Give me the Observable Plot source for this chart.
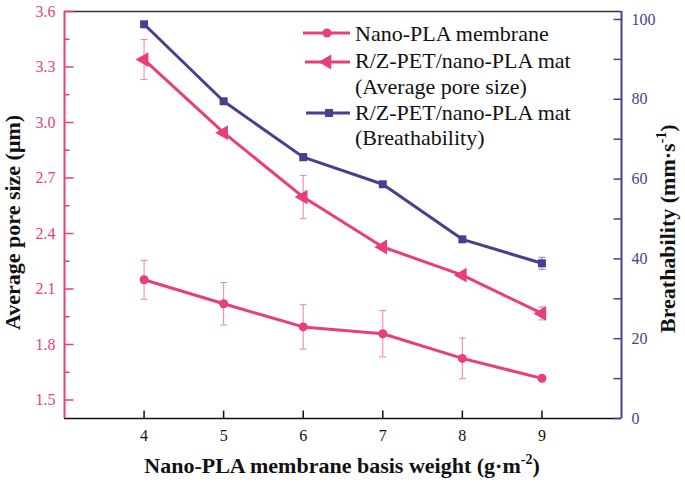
<!DOCTYPE html>
<html><head><meta charset="utf-8">
<script src="https://cdn.jsdelivr.net/npm/d3@7"></script>
<script src="https://cdn.jsdelivr.net/npm/@observablehq/plot@0.6"></script>
<style>
body{margin:0;background:#fff}
#c{position:relative;width:685px;height:483px}
#c svg text{font-family:"Liberation Serif",serif !important}
</style>
</head><body><div id="c"></div>
<script>
// ---- data ----
const weights = [4, 5, 6, 7, 8, 9];
const membranePore = [2.15, 2.02, 1.895, 1.858, 1.725, 1.617];
const membraneErr  = [0.105, 0.115, 0.12, 0.125, 0.11, 0.008];
const matPore      = [3.34, 2.945, 2.597, 2.327, 2.175, 1.968];
const matPoreErr   = [0.108, 0.015, 0.117, 0.012, 0.012, 0.035];
const matBreath    = [98.8, 79.5, 65.5, 58.7, 44.9, 38.9];
const matBreathErr = [0.4, 0.4, 0.9, 0.4, 0.4, 1.5];
const leftTicks  = [1.5, 1.8, 2.1, 2.4, 2.7, 3.0, 3.3, 3.6];
const leftMinor  = [1.65, 1.95, 2.25, 2.55, 2.85, 3.15, 3.45];
const rightTicks = [0, 20, 40, 60, 80, 100];
const rightMinor = [10, 30, 50, 70, 90];
const xTicks = [4, 5, 6, 7, 8, 9];
const seriesNames = ["Nano-PLA membrane", "R/Z-PET/nano-PLA mat", "(Average pore size)", "R/Z-PET/nano-PLA mat", "(Breathability)"];

const xDomain = [3, 10], yDomain = [1.4, 3.6], rDomain = [0, 102];
const PINK = "#E83E7C", PINK_LIGHT = "#F27FA9", NAVY = "#4A3F8E", NAVY_LIGHT = "#8A84C2";
const FONT = "Liberation Serif";

const toLeft = v => yDomain[0] + (v - rDomain[0]) * (yDomain[1] - yDomain[0]) / (rDomain[1] - rDomain[0]);

const membrane = weights.map((w, i) => ({w, v: membranePore[i], lo: membranePore[i] - membraneErr[i], hi: membranePore[i] + membraneErr[i]}));
const mat = weights.map((w, i) => ({w, v: matPore[i], lo: matPore[i] - matPoreErr[i], hi: matPore[i] + matPoreErr[i]}));
const breath = weights.map((w, i) => ({w, v: toLeft(matBreath[i]), lo: toLeft(matBreath[i] - matBreathErr[i]), hi: toLeft(matBreath[i] + matBreathErr[i])}));

const seg = (dx, dy) => ({draw(ctx) { ctx.moveTo(0, 0); ctx.lineTo(dx, dy); }});
const cap = {draw(ctx) { ctx.moveTo(-3.5, 0); ctx.lineTo(3.5, 0); }};

function errorMarks(data, color) {
  return [
    Plot.ruleX(data, {x: "w", y1: "lo", y2: "hi", stroke: color, strokeWidth: 1}),
    Plot.dot(data, {x: "w", y: "lo", symbol: cap, stroke: color, fill: "none", strokeWidth: 1}),
    Plot.dot(data, {x: "w", y: "hi", symbol: cap, stroke: color, fill: "none", strokeWidth: 1})
  ];
}

const axisText = {fontFamily: FONT, fontSize: 16, fontVariant: "normal", label: null, tickSize: 0};

const chart = Plot.plot({
  width: 685, height: 483,
  marginLeft: 64, marginRight: 64, marginTop: 11, marginBottom: 65,
  style: {fontFamily: FONT, fontSize: "16px", background: "#fff"},
  x: {domain: xDomain},
  y: {domain: yDomain},
  marks: [
    // frame
    Plot.ruleY([yDomain[0]], {stroke: "#111", strokeWidth: 1.5}),
    Plot.ruleY([yDomain[1]], {stroke: "#333", strokeWidth: 1.5}),
    // axes labels
    Plot.axisY({...axisText, ticks: leftTicks, tickPadding: 9, tickFormat: d => d.toFixed(1), fill: PINK}),
    Plot.axisY({...axisText, anchor: "right", ticks: rightTicks.map(toLeft), tickPadding: 10,
      tickFormat: (d, i) => String(rightTicks[i]), fill: NAVY}),
    Plot.axisX({...axisText, ticks: xTicks, tickPadding: 11, tickFormat: d => String(d), fill: "#111"}),
    // inward ticks
    Plot.dot(leftTicks, {y: d => d, frameAnchor: "left", symbol: seg(9, 0), stroke: PINK, strokeWidth: 1.5}),
    Plot.dot(leftMinor, {y: d => d, frameAnchor: "left", symbol: seg(5, 0), stroke: PINK, strokeWidth: 1.5}),
    Plot.dot(rightTicks.map(toLeft), {y: d => d, frameAnchor: "right", symbol: seg(-8, 0), stroke: NAVY, strokeWidth: 1.5}),
    Plot.dot(rightMinor.map(toLeft), {y: d => d, frameAnchor: "right", symbol: seg(-8, 0), stroke: NAVY, strokeWidth: 1.5}),
    Plot.dot(xTicks, {x: d => d, frameAnchor: "bottom", symbol: seg(0, -8), stroke: "#111", strokeWidth: 1.5}),
    Plot.ruleX([xDomain[0]], {stroke: PINK, strokeWidth: 2}),
    Plot.ruleX([xDomain[1]], {stroke: NAVY, strokeWidth: 2}),
    // error bars
    ...errorMarks(membrane, PINK_LIGHT),
    ...errorMarks(mat, PINK_LIGHT),
    ...errorMarks(breath, NAVY_LIGHT),
    // lines
    Plot.line(membrane, {x: "w", y: "v", stroke: PINK, strokeWidth: 3}),
    Plot.line(mat, {x: "w", y: "v", stroke: PINK, strokeWidth: 3}),
    Plot.line(breath, {x: "w", y: "v", stroke: NAVY, strokeWidth: 3}),
    // markers
    Plot.dot(membrane, {x: "w", y: "v", r: 4.5, symbol: "circle", fill: PINK}),
    Plot.dot(mat, {x: "w", y: "v", r: 5.5, symbol: "triangle", fill: PINK, rotate: -90}),
    Plot.dot(breath, {x: "w", y: "v", r: 4.5, symbol: "square", fill: NAVY})
  ]
});

document.getElementById("c").appendChild(chart);
const svg = d3.select(chart);

// axis titles
const xt = svg.append("text").attr("x", 342).attr("y", 473).attr("text-anchor", "middle")
  .attr("font-family", FONT).attr("font-size", 22).attr("font-weight", "bold").attr("fill", "#111");
xt.append("tspan").text("Nano-PLA membrane basis weight (g·m");
xt.append("tspan").attr("font-size", 14).attr("dy", -9).text("-2");
xt.append("tspan").attr("dy", 9).text(")");

svg.append("text").attr("transform", "translate(20,330) rotate(-90)").attr("text-anchor", "start")
  .attr("font-family", FONT).attr("font-size", 22).attr("font-weight", "bold").attr("fill", "#111")
  .text("Average pore size (μm)");

const rt = svg.append("text").attr("transform", "translate(675,333) rotate(-90)").attr("text-anchor", "start")
  .attr("font-family", FONT).attr("font-size", 22).attr("font-weight", "bold").attr("fill", "#111");
rt.append("tspan").text("Breathability (mm·s");
rt.append("tspan").attr("font-size", 14).attr("dy", -9).text("-1");
rt.append("tspan").attr("dy", 9).text(")");

// legend
const lg = svg.append("g").attr("font-family", FONT).attr("font-size", 22).attr("fill", "#111").attr("text-anchor", "start");
function legLine(x1, x2, y, color) {
  lg.append("line").attr("x1", x1).attr("x2", x2).attr("y1", y).attr("y2", y).attr("stroke", color).attr("stroke-width", 3);
}
legLine(303, 350, 33, PINK);
lg.append("circle").attr("cx", 327).attr("cy", 33).attr("r", 4.5).attr("fill", PINK);
legLine(305, 350, 62, PINK);
lg.append("path").attr("d", d3.symbol(d3.symbolTriangle, 95)()).attr("transform", "translate(327,62) rotate(-90)").attr("fill", PINK);
legLine(306, 350, 113, NAVY);
lg.append("path").attr("d", d3.symbol(d3.symbolSquare, 64)()).attr("transform", "translate(329,113)").attr("fill", NAVY);
const legY = [41, 68, 94, 120, 145];
seriesNames.forEach((t, i) => lg.append("text").attr("x", 355).attr("y", legY[i]).text(t));
</script>
</body></html>
